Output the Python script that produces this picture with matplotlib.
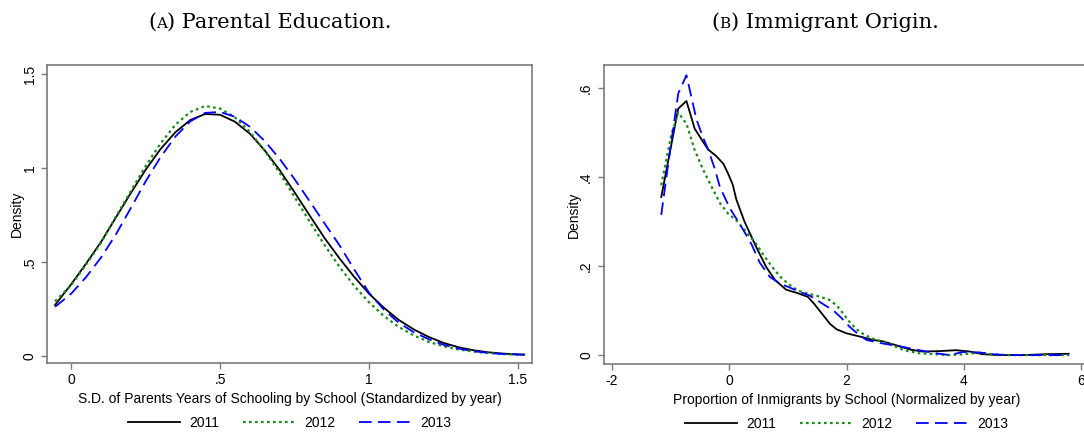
import matplotlib
matplotlib.use("Agg")
import matplotlib.pyplot as plt

# ---- Panel A: S.D. of parents years of schooling (kernel densities) ----
edu_x = [-0.054, 0.00, 0.05, 0.10, 0.15, 0.20, 0.25, 0.30, 0.35, 0.40, 0.45,
         0.50, 0.55, 0.60, 0.65, 0.70, 0.75, 0.80, 0.85, 0.90, 0.95, 1.00,
         1.05, 1.10, 1.15, 1.20, 1.25, 1.30, 1.35, 1.40, 1.45, 1.50, 1.521]
edu_2011 = [0.270, 0.380, 0.490, 0.605, 0.735, 0.865, 0.990, 1.100, 1.190, 1.255, 1.287,
            1.283, 1.246, 1.182, 1.093, 0.988, 0.870, 0.748, 0.628, 0.520, 0.420, 0.330,
            0.255, 0.190, 0.140, 0.100, 0.068, 0.045, 0.029, 0.018, 0.011, 0.007, 0.006]
edu_2012 = [0.290, 0.375, 0.485, 0.600, 0.740, 0.875, 1.010, 1.130, 1.230, 1.298, 1.330,
            1.316, 1.269, 1.192, 1.091, 0.973, 0.845, 0.716, 0.591, 0.475, 0.372, 0.284,
            0.211, 0.153, 0.108, 0.074, 0.050, 0.033, 0.022, 0.014, 0.009, 0.005, 0.004]
edu_2013 = [0.260, 0.330, 0.418, 0.522, 0.645, 0.785, 0.928, 1.057, 1.167, 1.248, 1.293,
            1.298, 1.272, 1.219, 1.143, 1.048, 0.940, 0.824, 0.706, 0.590, 0.460, 0.335,
            0.245, 0.175, 0.125, 0.088, 0.058, 0.038, 0.024, 0.015, 0.009, 0.006, 0.005]

# ---- Panel B: proportion of immigrants (kernel densities) ----
imm_x_2011 = [-1.16, -0.87, -0.73, -0.59, -0.45, -0.36, -0.22, -0.10, -0.02, 0.06, 0.12,
              0.26, 0.46, 0.63, 0.78, 0.97, 1.15, 1.34, 1.45, 1.60, 1.72, 1.83, 2.00,
              2.28, 2.45, 2.62, 2.90, 3.10, 3.30, 3.59, 3.87, 4.10, 4.32, 4.61, 5.00,
              5.40, 5.79]
imm_2011 = [0.355, 0.554, 0.571, 0.509, 0.480, 0.462, 0.447, 0.430, 0.408, 0.383, 0.350,
            0.300, 0.243, 0.198, 0.169, 0.147, 0.140, 0.131, 0.115, 0.090, 0.070, 0.058,
            0.049, 0.040, 0.034, 0.031, 0.020, 0.012, 0.008, 0.009, 0.011, 0.008, 0.002,
            0.000, 0.000, 0.002, 0.003]
imm_x_2012 = [-1.16, -0.99, -0.87, -0.73, -0.59, -0.45, -0.30, -0.15, -0.02, 0.12, 0.30,
              0.46, 0.60, 0.75, 0.90, 1.03, 1.17, 1.32, 1.50, 1.71, 1.83, 1.94, 2.05,
              2.17, 2.30, 2.45, 2.73, 2.90, 3.05, 3.24, 3.50, 3.76, 4.00, 4.25, 4.50,
              4.72, 5.20, 5.79]
imm_2012 = [0.382, 0.494, 0.545, 0.520, 0.461, 0.418, 0.378, 0.340, 0.318, 0.303, 0.275,
            0.250, 0.222, 0.195, 0.172, 0.158, 0.145, 0.139, 0.133, 0.124, 0.112, 0.094,
            0.075, 0.058, 0.046, 0.037, 0.026, 0.015, 0.009, 0.004, 0.002, 0.000, 0.002,
            0.005, 0.002, 0.000, 0.000, 0.000]
imm_x_2013 = [-1.16, -1.02, -0.87, -0.73, -0.56, -0.45, -0.36, -0.25, -0.16, 0.01, 0.21,
              0.38, 0.52, 0.69, 0.86, 1.03, 1.20, 1.37, 1.49, 1.62, 1.77, 1.91, 2.05,
              2.20, 2.34, 2.62, 2.90, 3.24, 3.53, 3.76, 3.98, 4.27, 4.49, 4.72, 5.20,
              5.79]
imm_2013 = [0.315, 0.450, 0.588, 0.629, 0.530, 0.490, 0.462, 0.420, 0.378, 0.330, 0.288,
            0.249, 0.208, 0.176, 0.161, 0.152, 0.142, 0.134, 0.124, 0.113, 0.101, 0.084,
            0.064, 0.047, 0.034, 0.026, 0.020, 0.011, 0.004, 0.000, 0.007, 0.006, 0.002,
            0.000, 0.000, 0.000]

years = ["2011", "2012", "2013"]
edu_ticks = [0, 0.5, 1, 1.5]
edu_ticklabels = ["0", ".5", "1", "1.5"]
imm_xticks = [-2, 0, 2, 4, 6]
imm_yticks = [0, 0.2, 0.4, 0.6]
imm_yticklabels = ["0", ".2", ".4", ".6"]

plt.rcParams["font.family"] = ["Liberation Sans", "DejaVu Sans"]

W, H = 1084, 433
fig = plt.figure(figsize=(W / 100, H / 100), dpi=100)


def px_axes(left, right, top, bottom):
    return fig.add_axes([left / W, 1 - bottom / H, (right - left) / W, (bottom - top) / H])


ax1 = px_axes(47, 532, 65, 363)
ax2 = px_axes(603.5, 1089.5, 65, 364)

styles = [dict(color="black", linestyle="-", lw=1.3),
          dict(color="#1a8a1a", linestyle=(0, (1.2, 1.5)), lw=1.6),
          dict(color="#0000ff", linestyle=(0, (7, 3.5)), lw=1.3)]

for ys, st, lab in zip([edu_2011, edu_2012, edu_2013], styles, years):
    ax1.plot(edu_x, ys, label=lab, **st)

for xs, ys, st, lab in zip([imm_x_2011, imm_x_2012, imm_x_2013],
                           [imm_2011, imm_2012, imm_2013], styles, years):
    ax2.plot(xs, ys, label=lab, **st)

ax1.set_xlim(-0.081, 1.547)
ax1.set_ylim(-0.039, 1.548)
ax1.set_xticks(edu_ticks, edu_ticklabels)
ax1.set_yticks(edu_ticks, edu_ticklabels)
ax1.set_xlabel("S.D. of Parents Years of Schooling by School (Standardized by year)",
               fontsize=10, labelpad=3)

ax2.set_xlim(-2.145, 6.145)
ax2.set_ylim(-0.020, 0.652)
ax2.set_xticks(imm_xticks, [str(t) for t in imm_xticks])
ax2.set_yticks(imm_yticks, imm_yticklabels)
ax2.set_xlabel("Proportion of Inmigrants by School (Normalized by year)",
               fontsize=10, labelpad=3)

for ax in (ax1, ax2):
    ax.set_ylabel("Density", fontsize=10, labelpad=-1)
    for sp in ax.spines.values():
        sp.set_color("#7a7a7a")
        sp.set_linewidth(1.2)
    ax.tick_params(direction="out", length=4.5, width=1.0, color="#7a7a7a",
                   labelsize=10, pad=3)
    for lbl in ax.get_yticklabels():
        lbl.set_rotation(90)
        lbl.set_va("center")
    ax.legend(loc="center", bbox_to_anchor=(0.5, -0.2), ncol=3, frameon=False,
              fontsize=10, handlelength=3.75, handletextpad=0.65, columnspacing=1.7)


def smallcaps_title(xc, yc, parts):
    # parts: list of (text, size); laid out left to right, centred on xc
    renderer = fig.canvas.get_renderer()
    texts = [fig.text(0, yc, t, fontsize=s, family="DejaVu Serif",
                      ha="left", va="baseline") for t, s in parts]
    widths = [t.get_window_extent(renderer).width / W for t in texts]
    x = xc - sum(widths) / 2
    for t, w in zip(texts, widths):
        t.set_x(x)
        x += w


smallcaps_title(270 / W, 1 - 28 / H, [("(", 15), ("A", 11), (") Parental Education.", 15)])
smallcaps_title(825 / W, 1 - 28 / H, [("(", 15), ("B", 11), (") Immigrant Origin.", 15)])

fig.savefig("out.png", dpi=100)
